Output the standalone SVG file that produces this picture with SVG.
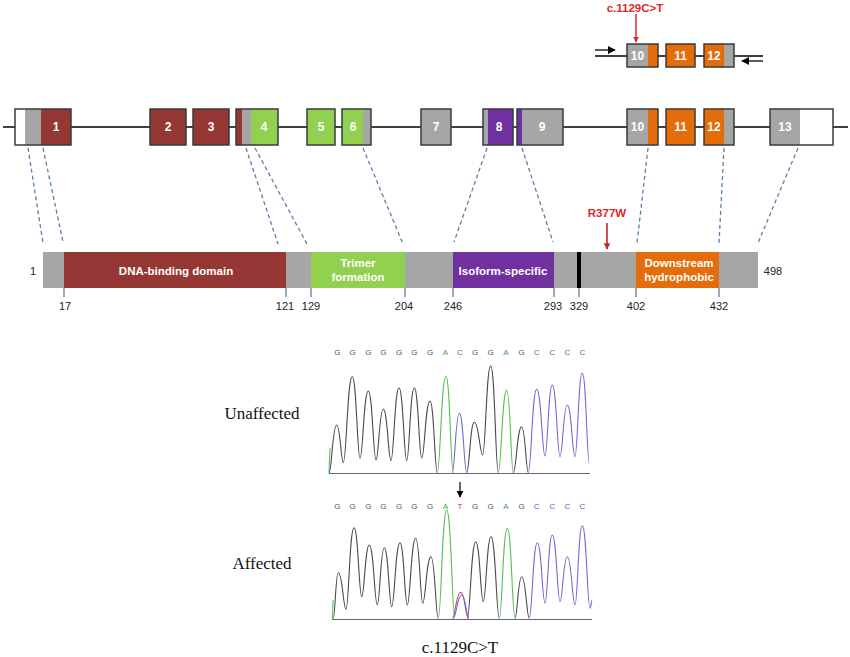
<svg xmlns="http://www.w3.org/2000/svg" width="850" height="657" viewBox="0 0 850 657">
<defs>
<style>
.ex{stroke:#3a3a3a;stroke-width:1.5;fill:none}
.exl{font-family:"Liberation Sans",Arial,sans-serif;font-weight:bold;font-size:12px;fill:#fff;text-anchor:middle}
.dom{font-family:"Liberation Sans",Arial,sans-serif;font-weight:bold;font-size:11.5px;fill:#fff;text-anchor:middle}
.num{font-family:"Liberation Sans",Arial,sans-serif;font-size:11px;fill:#222;text-anchor:middle}
.red{font-family:"Liberation Sans",Arial,sans-serif;font-weight:bold;font-size:11.5px;fill:#e0262b;text-anchor:middle}
.dash{stroke:#5b7fa8;stroke-width:1.3;stroke-dasharray:4,3;fill:none}
.tick{stroke:#5b7fa8;stroke-width:1.3}
.tnr{font-family:"Liberation Serif","Times New Roman",serif;font-size:17px;fill:#111;text-anchor:middle}
.b{font-family:"Liberation Sans",Arial,sans-serif;font-size:8px;text-anchor:middle}
.k{fill:#555}.a{fill:#3aa53a}.c{fill:#5a5ad0}.t{fill:#d03030}
.tk{stroke:#4a4a4a;stroke-width:1.1;fill:none}
.tg{stroke:#55c055;stroke-width:1.1;fill:none}
.tb{stroke:#6c6cd8;stroke-width:1.1;fill:none}
.tr{stroke:#d04060;stroke-width:1.1;fill:none}
.base{stroke:#666;stroke-width:1.2}
.dr{fill:#953735}.gr{fill:#92d050}.pu{fill:#7030a0}.or{fill:#e46c0a}.gy{fill:#a6a6a6}.wh{fill:#fff}
</style>
<marker id="ahr" viewBox="0 0 10 10" refX="9" refY="5" markerWidth="4" markerHeight="4" orient="auto"><path d="M0,0 L10,5 L0,10 z" fill="#e0262b"/></marker>
<marker id="ahd" viewBox="0 0 10 10" refX="9" refY="5" markerWidth="4" markerHeight="4" orient="auto"><path d="M0,0 L10,5 L0,10 z" fill="#c0282d"/></marker>
<marker id="ahk" viewBox="0 0 10 10" refX="9" refY="5" markerWidth="6" markerHeight="6" orient="auto"><path d="M0,0 L10,5 L0,10 z" fill="#000"/></marker>
</defs>
<rect width="850" height="657" fill="#fff"/>

<!-- Top inset -->
<g id="inset">
<text class="red" x="635" y="12">c.1129C&gt;T</text>
<line x1="636" y1="14" x2="636" y2="42" stroke="#e0262b" stroke-width="1.5" marker-end="url(#ahr)"/>
<line x1="595" y1="56" x2="763" y2="56" stroke="#000" stroke-width="1.3"/>
<line x1="595" y1="50" x2="615" y2="50" stroke="#000" stroke-width="1.3" marker-end="url(#ahk)"/>
<line x1="763" y1="61" x2="742" y2="61" stroke="#000" stroke-width="1.3" marker-end="url(#ahk)"/>
<rect class="gy" x="627" y="44" width="21" height="23"/><rect class="or" x="648" y="44" width="10" height="23"/>
<rect class="ex" x="627" y="44" width="31" height="23"/>
<text class="exl" x="637.5" y="60">10</text>
<rect class="or" x="666" y="44" width="29" height="23"/><rect class="ex" x="666" y="44" width="29" height="23"/>
<text class="exl" x="680.5" y="60">11</text>
<rect class="or" x="704" y="44" width="20" height="23"/><rect class="gy" x="724" y="44" width="10" height="23"/>
<rect class="ex" x="704" y="44" width="30" height="23"/>
<text class="exl" x="714" y="60">12</text>
</g>

<!-- Gene exon row -->
<line x1="3" y1="127" x2="848" y2="127" stroke="#000" stroke-width="1.5"/>
<g id="exon1"><rect class="wh" x="15" y="109" width="10" height="36"/><rect class="gy" x="25" y="109" width="16" height="36"/><rect class="dr" x="41" y="109" width="30" height="36"/><rect class="ex" x="15" y="109" width="56" height="36"/><text class="exl" x="56" y="131">1</text></g>
<g id="exon2"><rect class="dr" x="150" y="109" width="36" height="36"/><rect class="ex" x="150" y="109" width="36" height="36"/><text class="exl" x="168" y="131">2</text></g>
<g id="exon3"><rect class="dr" x="193" y="109" width="36" height="36"/><rect class="ex" x="193" y="109" width="36" height="36"/><text class="exl" x="211" y="131">3</text></g>
<g id="exon4"><rect class="dr" x="236" y="109" width="6" height="36"/><rect class="gy" x="242" y="109" width="9" height="36"/><rect class="gr" x="251" y="109" width="27" height="36"/><rect class="ex" x="236" y="109" width="42" height="36"/><text class="exl" x="264" y="131">4</text></g>
<g id="exon5"><rect class="gr" x="307" y="109" width="28" height="36"/><rect class="ex" x="307" y="109" width="28" height="36"/><text class="exl" x="321" y="131">5</text></g>
<g id="exon6"><rect class="gr" x="342" y="109" width="21" height="36"/><rect class="gy" x="363" y="109" width="8" height="36"/><rect class="ex" x="342" y="109" width="29" height="36"/><text class="exl" x="353" y="131">6</text></g>
<g id="exon7"><rect class="gy" x="421" y="109" width="30" height="36"/><rect class="ex" x="421" y="109" width="30" height="36"/><text class="exl" x="436" y="131">7</text></g>
<g id="exon8"><rect class="gy" x="483" y="109" width="5" height="36"/><rect class="pu" x="488" y="109" width="25" height="36"/><rect class="ex" x="483" y="109" width="30" height="36"/><text class="exl" x="499" y="131">8</text></g>
<g id="exon9"><rect class="pu" x="517" y="109" width="5" height="36"/><rect class="gy" x="522" y="109" width="41" height="36"/><rect class="ex" x="517" y="109" width="46" height="36"/><text class="exl" x="542" y="131">9</text></g>
<g id="exon10"><rect class="gy" x="627" y="109" width="21" height="36"/><rect class="or" x="648" y="109" width="10" height="36"/><rect class="ex" x="627" y="109" width="31" height="36"/><text class="exl" x="637.5" y="131">10</text></g>
<g id="exon11"><rect class="or" x="666" y="109" width="29" height="36"/><rect class="ex" x="666" y="109" width="29" height="36"/><text class="exl" x="680.5" y="131">11</text></g>
<g id="exon12"><rect class="or" x="704" y="109" width="20" height="36"/><rect class="gy" x="724" y="109" width="10" height="36"/><rect class="ex" x="704" y="109" width="30" height="36"/><text class="exl" x="714" y="131">12</text></g>
<g id="exon13"><rect class="gy" x="770" y="109" width="30" height="36"/><rect class="wh" x="800" y="109" width="33" height="36"/><rect class="ex" x="770" y="109" width="63" height="36"/><text class="exl" x="785" y="131">13</text></g>

<!-- Connectors -->
<g id="connectors">
<line class="dash" x1="28" y1="148" x2="43" y2="243"/>
<line class="dash" x1="43" y1="148" x2="63" y2="242"/>
<line class="dash" x1="246" y1="148" x2="278" y2="244"/>
<line class="dash" x1="255" y1="148" x2="307" y2="244"/>
<line class="dash" x1="363" y1="148" x2="403" y2="244"/>
<line class="dash" x1="487" y1="148" x2="454" y2="242"/>
<line class="dash" x1="522" y1="148" x2="553" y2="242"/>
<line class="dash" x1="648" y1="148" x2="637" y2="243"/>
<line class="dash" x1="724" y1="148" x2="719" y2="243"/>
<line class="dash" x1="798" y1="148" x2="758" y2="243"/>
</g>

<!-- Protein -->
<g id="protein">
<rect class="gy" x="43" y="252" width="715" height="36"/>
<rect class="dr" x="64" y="252" width="222" height="36"/>
<rect class="gr" x="311" y="252" width="94" height="36"/>
<rect class="pu" x="453" y="252" width="101" height="36"/>
<rect x="577" y="252" width="4" height="36" fill="#000"/>
<rect class="or" x="636" y="252" width="83" height="36"/>
<text class="dom" x="176" y="275">DNA-binding domain</text>
<text class="dom" x="358" y="267">Trimer</text>
<text class="dom" x="358" y="281">formation</text>
<text class="dom" x="503" y="275">Isoform-specific</text>
<text class="dom" x="679" y="267">Downstream</text>
<text class="dom" x="679" y="281">hydrophobic</text>
<text class="num" x="33" y="275">1</text>
<text class="num" x="773" y="275">498</text>
<g>
<line class="tick" x1="64" y1="288" x2="64" y2="297"/>
<line class="tick" x1="286" y1="288" x2="286" y2="297"/>
<line class="tick" x1="311" y1="288" x2="311" y2="297"/>
<line class="tick" x1="405" y1="288" x2="405" y2="297"/>
<line class="tick" x1="453" y1="288" x2="453" y2="297"/>
<line class="tick" x1="554" y1="288" x2="554" y2="297"/>
<line class="tick" x1="579" y1="288" x2="579" y2="297"/>
<line class="tick" x1="636" y1="288" x2="636" y2="297"/>
<line class="tick" x1="719" y1="288" x2="719" y2="297"/>
</g>
<text class="num" x="65" y="310">17</text>
<text class="num" x="285" y="310">121</text>
<text class="num" x="311" y="310">129</text>
<text class="num" x="404" y="310">204</text>
<text class="num" x="453" y="310">246</text>
<text class="num" x="553" y="310">293</text>
<text class="num" x="579" y="310">329</text>
<text class="num" x="636" y="310">402</text>
<text class="num" x="719" y="310">432</text>
<text class="red" x="607" y="217">R377W</text>
<line x1="607" y1="223" x2="607" y2="249" stroke="#c0282d" stroke-width="1.6" marker-end="url(#ahd)"/>
</g>

<!-- Chromatograms -->
<g id="labels">
<text class="tnr" x="262" y="419">Unaffected</text>
<text class="tnr" x="262" y="569">Affected</text>
<text class="tnr" x="460" y="653">c.1129C&gt;T</text>
</g>

<g id="unaffected">
<g class="b">
<text class="k" x="337.3" y="355">G</text><text class="k" x="352.7" y="355">G</text><text class="k" x="368.3" y="355">G</text><text class="k" x="383.3" y="355">G</text><text class="k" x="399" y="355">G</text><text class="k" x="414.3" y="355">G</text><text class="k" x="430" y="355">G</text><text class="a" x="445.3" y="355">A</text><text class="c" x="460" y="355">C</text><text class="k" x="475" y="355">G</text><text class="k" x="490.7" y="355">G</text><text class="a" x="506" y="355">A</text><text class="k" x="521.7" y="355">G</text><text class="c" x="536.7" y="355">C</text><text class="c" x="552.3" y="355">C</text><text class="c" x="567.3" y="355">C</text><text class="c" x="582.3" y="355">C</text>
</g>
<line class="base" x1="329" y1="473.5" x2="590" y2="473.5"/>
<path class="tg" d="M329,473 L330,448"/>
<path class="tk" d="M329,473 C331.7,473 332.5,425 336.7,425 C340.3,425 341,462.7 343.3,462.7 C346.5,462.7 347.3,376.7 352.3,376.7 C356.5,376.7 357.3,458.3 360,458.3 C362.9,458.3 363.7,391 368.3,391 C372.5,391 373.3,460 376,460 C378.6,460 379.3,409 383.3,409 C387.5,409 388.3,460.7 391,460.7 C393.8,460.7 394.6,387.7 399,387.7 C403.2,387.7 404,460.7 406.7,460.7 C409.4,460.7 410.1,387.7 414.3,387.7 C418.4,387.7 419.1,458.3 421.7,458.3 C424.6,458.3 425.4,401 430,401 C434,401 434.7,472.7 437.3,472.7"/>
<path class="tg" d="M437.3,472.7 C440.3,472.7 441.2,376.7 446,376.7 C450,376.7 450.7,472.7 453.3,472.7"/>
<path class="tb" d="M452.3,472.7 C454.8,472.7 455.5,413.3 459.3,413.3 C463.4,413.3 464.1,472.7 466.7,472.7"/>
<path class="tk" d="M466.7,472.7 C469.4,472.7 470.1,422.3 474.3,422.3 C478.9,422.3 479.8,455 482.7,455 C485.5,455 486.3,366 490.7,366 C494.9,366 495.6,472.7 498.3,472.7"/>
<path class="tg" d="M498.3,472.7 C501.2,472.7 502.1,390 506.7,390 C510.3,390 511,472.7 513.3,472.7"/>
<path class="tk" d="M513.3,472.7 C516.2,472.7 517.1,426.7 521.7,426.7 C525.3,426.7 526,472.7 528.3,472.7"/>
<path class="tb" d="M528.3,472.7 C531.2,472.7 532.1,389.3 536.7,389.3 C541.3,389.3 542.1,456 545,456 C547.6,456 548.3,385 552.3,385 C556.5,385 557.3,456.7 560,456.7 C562.6,456.7 563.3,405 567.3,405 C571.5,405 572.3,456.7 575,456.7 C577.6,456.7 578.3,373.3 582.3,373.3 C586.2,373.3 586.9,463.3 589.3,463.3"/>
</g>

<g id="affected">
<line x1="460" y1="482" x2="460" y2="497" stroke="#000" stroke-width="1.2" marker-end="url(#ahk)"/>
<g class="b">
<text class="k" x="337.3" y="508.5">G</text><text class="k" x="352.7" y="508.5">G</text><text class="k" x="368.3" y="508.5">G</text><text class="k" x="383.3" y="508.5">G</text><text class="k" x="399" y="508.5">G</text><text class="k" x="414.3" y="508.5">G</text><text class="k" x="430" y="508.5">G</text><text class="a" x="445.3" y="508.5">A</text><text class="t" x="460" y="508.5">T</text><text class="k" x="475" y="508.5">G</text><text class="k" x="490.7" y="508.5">G</text><text class="a" x="506" y="508.5">A</text><text class="k" x="521.7" y="508.5">G</text><text class="c" x="536.7" y="508.5">C</text><text class="c" x="552.3" y="508.5">C</text><text class="c" x="567.3" y="508.5">C</text><text class="c" x="582.3" y="508.5">C</text>
</g>
<line class="base" x1="332" y1="619.5" x2="592" y2="619.5"/>
<path class="tg" d="M332.5,619 L333,600"/>
<path class="tk" d="M333.3,618.3 C335.1,618.3 335.6,572.7 338.3,572.7 C342.5,572.7 343.3,609.3 346,609.3 C348.8,609.3 349.6,527.7 354,527.7 C358.2,527.7 359,596.7 361.7,596.7 C364.4,596.7 365.1,545 369.3,545 C373.7,545 374.5,605 377.3,605 C379.8,605 380.5,547.7 384.3,547.7 C388.4,547.7 389.1,606.7 391.7,606.7 C394.6,606.7 395.4,542.7 400,542.7 C404,542.7 404.7,605 407.3,605 C410.2,605 411.1,538.3 415.7,538.3 C419.6,538.3 420.3,603.3 422.7,603.3 C425.6,603.3 426.4,556.7 431,556.7 C435,556.7 435.7,618.3 438.3,618.3"/>
<path class="tg" d="M438.3,618.3 C441.2,618.3 442.1,510 446.7,510 C451.3,510 452.1,618.3 455,618.3"/>
<path class="tr" d="M452.3,618.3 C455.2,618.3 456.1,592.3 460.7,592.3 C464.9,592.3 465.6,618.3 468.3,618.3"/>
<path class="tb" d="M453.3,618.3 C456.2,618.3 457.1,595 461.7,595 C465.7,595 466.4,618.3 469,618.3"/>
<path class="tk" d="M467.3,618.3 C470.2,618.3 471.1,541.7 475.7,541.7 C479.9,541.7 480.6,601.7 483.3,601.7 C486,601.7 486.8,536.7 491,536.7 C495.6,536.7 496.4,618.3 499.3,618.3"/>
<path class="tg" d="M499.3,618.3 C502.1,618.3 502.9,528.3 507.3,528.3 C511.5,528.3 512.3,618.3 515,618.3"/>
<path class="tk" d="M515,618.3 C517.3,618.3 518,576.7 521.7,576.7 C525.9,576.7 526.6,618.3 529.3,618.3"/>
<path class="tb" d="M529.3,618.3 C532.1,618.3 532.9,542.7 537.3,542.7 C541.5,542.7 542.3,603.3 545,603.3 C547.6,603.3 548.3,535 552.3,535 C556.5,535 557.3,601.7 560,601.7 C562.6,601.7 563.3,556.7 567.3,556.7 C571.5,556.7 572.3,605 575,605 C577.6,605 578.3,525.7 582.3,525.7 C586.5,525.7 587.3,608.3 590,608.3 C591,608.3 591.5,600 592,600"/>
</g>
</svg>
